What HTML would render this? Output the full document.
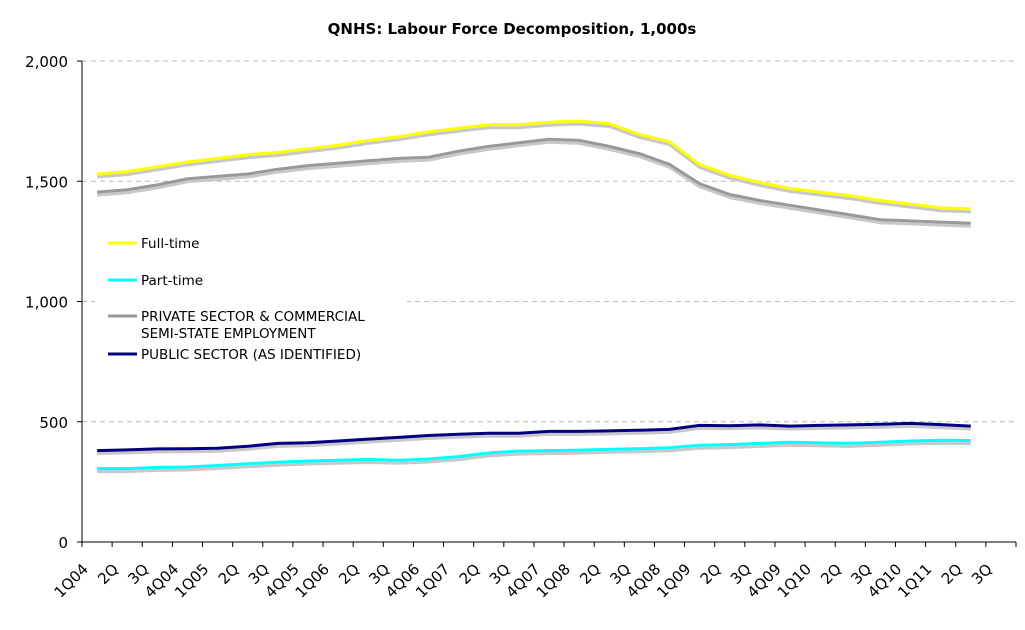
<!DOCTYPE html>
<html><head><meta charset="utf-8"><style>
body{margin:0;background:#fff;}
svg text{font-family:"DejaVu Sans","Liberation Sans",sans-serif;}
</style></head><body>
<svg id="chart" width="1025" height="625" viewBox="0 0 1025 625">
<text x="512" y="34" text-anchor="middle" font-size="15" font-weight="bold">QNHS: Labour Force Decomposition, 1,000s</text>
<g id="grid"></g><g id="series"></g><g id="axes"></g>
<g>
<rect x="95" y="225" width="312" height="145" fill="#fff"/>
<line x1="108" y1="243" x2="137" y2="243" stroke="#ffff00" stroke-width="3"/>
<text x="141" y="248" font-size="13.5">Full-time</text>
<line x1="108" y1="280" x2="137" y2="280" stroke="#00ffff" stroke-width="3"/>
<text x="141" y="285" font-size="13.5">Part-time</text>
<line x1="108" y1="316" x2="137" y2="316" stroke="#999" stroke-width="3"/>
<text x="141" y="321" font-size="13.5">PRIVATE SECTOR &amp; COMMERCIAL</text>
<text x="141" y="338" font-size="13.5">SEMI-STATE EMPLOYMENT</text>
<line x1="108" y1="354" x2="137" y2="354" stroke="#000080" stroke-width="3"/>
<text x="141" y="359" font-size="13.5">PUBLIC SECTOR (AS IDENTIFIED)</text>
</g>
</svg>
<script>
const categories=["1Q04","2Q","3Q","4Q04","1Q05","2Q","3Q","4Q05","1Q06","2Q","3Q","4Q06","1Q07","2Q","3Q","4Q07","1Q08","2Q","3Q","4Q08","1Q09","2Q","3Q","4Q09","1Q10","2Q","3Q","4Q10","1Q11","2Q","3Q"];
const fullTime=[1530,1540,1560,1580,1595,1610,1620,1635,1650,1670,1685,1705,1720,1735,1735,1745,1750,1740,1695,1665,1570,1525,1495,1470,1455,1440,1420,1405,1390,1385];
const privateSector=[1455,1465,1485,1510,1520,1530,1550,1565,1575,1585,1595,1600,1625,1645,1660,1675,1670,1645,1615,1570,1490,1445,1420,1400,1380,1360,1340,1335,1330,1325];
const publicSector=[380,383,387,388,390,398,410,413,420,428,435,443,448,452,452,460,460,462,465,468,485,483,487,482,485,487,490,493,488,482];
const partTime=[305,305,310,312,318,325,332,337,340,343,340,345,355,370,378,380,382,385,388,392,402,405,410,415,412,410,415,420,423,422];
const yTicks=[0,500,1000,1500,2000];
const yTickLabels=["0","500","1,000","1,500","2,000"];
const NS="http://www.w3.org/2000/svg";
const x0=82,x1=1016,yb=542,yt=61;
const step=(x1-x0)/categories.length;
function xs(i){return x0+step*(i+0.5);}
function ys(v){return yb-(v/2000)*(yb-yt);}
function mk(t,a,p){const e=document.createElementNS(NS,t);for(const k in a)e.setAttribute(k,a[k]);p.appendChild(e);return e;}
const grid=document.getElementById('grid'),axes=document.getElementById('axes'),ser=document.getElementById('series');
yTicks.forEach((v,i)=>{
 if(v>0){const g=mk('line',{x1:x0,x2:x1,y1:ys(v),y2:ys(v),stroke:'#bbb','stroke-dasharray':'5,4'},grid);
 
 }
 mk('line',{x1:x0-5,x2:x0,y1:ys(v),y2:ys(v),stroke:'#000'},axes);
 const t=mk('text',{x:68,y:ys(v)+6,'text-anchor':'end','font-size':'15'},axes);t.textContent=yTickLabels[i];
 
 
});
const ya=mk('line',{x1:x0,x2:x0,y1:yt,y2:yb,stroke:'#000'},axes);


const xa=mk('line',{x1:x0,x2:x1,y1:yb,y2:yb,stroke:'#000'},axes);


for(let i=0;i<=categories.length;i++){mk('line',{x1:x0+step*i,x2:x0+step*i,y1:yb,y2:yb+5,stroke:'#000'},axes);}
categories.forEach((c,i)=>{
 const cx=xs(i)-8,cy=570;
 const t=mk('text',{x:cx,y:cy,'text-anchor':'end','font-size':'15',transform:`rotate(-45 ${cx} ${cy})`},axes);t.textContent=c;
 
 
});
function line(data,color,name){
 const d=data.map((v,i)=>(i?'L':'M')+xs(i).toFixed(1)+','+ys(v).toFixed(1)).join(' ');
 mk('path',{d:d,fill:'none',stroke:'#c8c8c8','stroke-width':3,transform:'translate(0,3)'},ser);
 const p=mk('path',{d:d,fill:'none',stroke:color,'stroke-width':3},ser);
 
 
}
line(privateSector,'#999999','private-sector-line');
line(fullTime,'#ffff00','full-time-line');
line(partTime,'#00ffff','part-time-line');
line(publicSector,'#000080','public-sector-line');
</script>
</body></html>
